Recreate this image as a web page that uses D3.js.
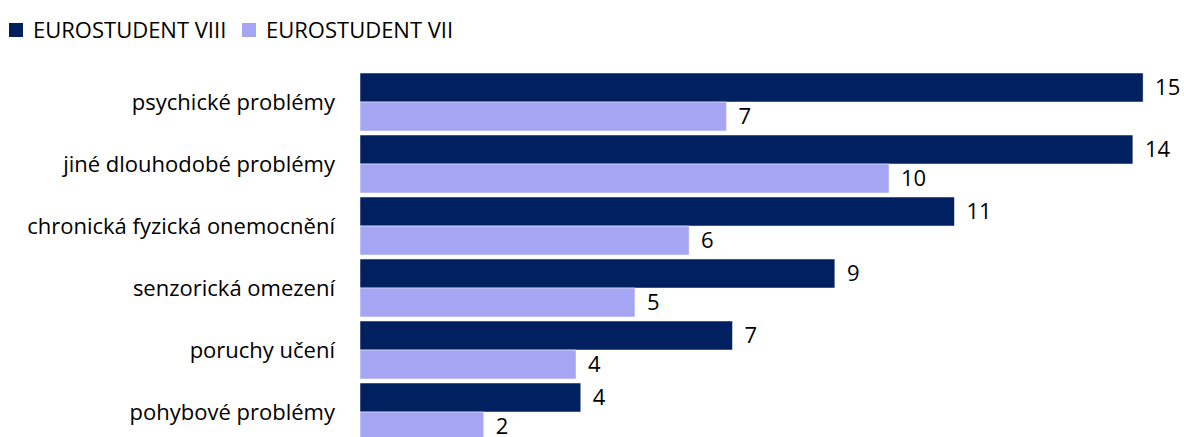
<!DOCTYPE html>
<html>
<head>
<meta charset="utf-8">
<script src="https://cdn.jsdelivr.net/npm/d3@7"></script>
<style>
  body { margin: 0; background: #fff; }
  svg text { font-family: "Open Sans", Lato, sans-serif; fill: #000; }
</style>
</head>
<body>
<div id="chart"></div>
<script>
// Categories and series (values in %, labels rounded)
const categories = [
    "psychické problémy",
    "jiné dlouhodobé problémy",
    "chronická fyzická onemocnění",
    "senzorická omezení ",
    "poruchy učení",
    "pohybové problémy"
];
const seriesNames = ["EUROSTUDENT VIII", "EUROSTUDENT VII"];
const es8 = [14.61, 14.42, 11.09, 8.86, 6.95, 4.12];
const es7 = [6.84, 9.87, 6.14, 5.13, 4.03, 2.31];
const colors = ["#002060", "#A5A5F3"];

const width = 1184, height = 437;
const fontSize = 22;
const svg = d3.select("#chart").append("svg")
    .attr("width", width)
    .attr("height", height);

// Scales
const x = d3.scaleLinear().domain([0, 15]).range([360, 1164]);
const y0 = d3.scaleBand()
    .domain(categories)
    .range([71, 443])
    .paddingInner(4 / 62)
    .paddingOuter(2 / 62);
const y1 = d3.scaleBand()
    .domain(seriesNames)
    .range([0, y0.bandwidth()]);
const color = d3.scaleOrdinal().domain(seriesNames).range(colors);

const rows = categories.map((c, i) => ({
    cat: c,
    vals: [
        {s: seriesNames[0], v: es8[i]},
        {s: seriesNames[1], v: es7[i]}
    ]
}));

// Bars
const groups = svg.append("g")
    .selectAll("g")
    .data(rows)
    .join("g")
    .attr("transform", d => `translate(0,${y0(d.cat)})`);

groups.selectAll("rect")
    .data(d => d.vals)
    .join("rect")
    .attr("x", x(0))
    .attr("y", d => y1(d.s))
    .attr("width", d => x(d.v) - x(0))
    .attr("height", y1.bandwidth())
    .attr("fill", d => color(d.s))
    .attr("stroke", "#fff")
    .attr("stroke-width", 0.5);

// Value labels
groups.selectAll("text")
    .data(d => d.vals)
    .join("text")
    .attr("x", d => x(d.v) + 12)
    .attr("y", d => y1(d.s) + y1.bandwidth() / 2)
    .attr("dy", "0.35em")
    .attr("font-size", fontSize)
    .text(d => Math.round(d.v));

// Category axis labels
svg.append("g")
    .selectAll("text")
    .data(categories)
    .join("text")
    .attr("x", 335)
    .attr("y", d => y0(d) + y0.bandwidth() / 2)
    .attr("dy", "0.35em")
    .attr("text-anchor", "end")
    .attr("font-size", fontSize)
    .text(d => d);

// Legend
const legendX = [9, 242];
const legend = svg.append("g")
    .selectAll("g")
    .data(seriesNames)
    .join("g")
    .attr("transform", (d, i) => `translate(${legendX[i]},23)`);
legend.append("rect")
    .attr("width", 14)
    .attr("height", 14)
    .attr("fill", d => color(d));
legend.append("text")
    .attr("x", 24)
    .attr("y", 7)
    .attr("dy", "0.35em")
    .attr("font-size", fontSize)
    .text(d => d);
</script>
</body>
</html>
